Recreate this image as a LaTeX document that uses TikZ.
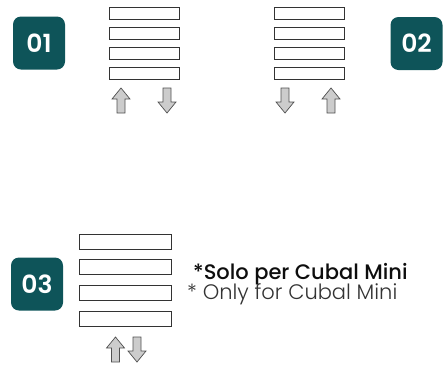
\documentclass[tikz,border=0pt]{standalone}
\usepackage{fontspec}
\setmainfont{Poppins}
\newfontfamily\semifont{Poppins SemiBold}
\newfontfamily\midfont{Poppins Medium}
\newfontfamily\lightfont{Poppins Light}
\usetikzlibrary{positioning}
\definecolor{badgeteal}{HTML}{0E5459}
\definecolor{arrowgray}{HTML}{CCCCCC}
\definecolor{edgegray}{HTML}{505050}
\tikzset{
  badge/.style={fill=badgeteal, rounded corners=8pt, minimum width=52pt, minimum height=53pt,
    text=white, font=\semifont\fontsize{25}{25}\selectfont, inner sep=0pt},
  slot/.style={draw=black!80, line width=0.9pt, minimum width=70pt, minimum height=12pt, inner sep=0pt},
  bigslot/.style={slot, minimum width=92pt, minimum height=15pt},
  uparr/.pic={\draw[fill=arrowgray, draw=edgegray, line width=0.7pt]
    (-4,12.5) -- (-4,-1.5) -- (-9,-1.5) -- (0,-12.5) -- (9,-1.5) -- (4,-1.5) -- (4,12.5) -- cycle;},
  note/.style={anchor=base west, inner sep=0pt, font=\fontsize{21}{21}\selectfont}
}
\begin{document}
\begin{tikzpicture}[x=1pt, y=-1pt]
    \useasboundingbox (0,0) rectangle (443,365);
    % badges
    \node[badge] (b1) at (39,43) {01};
    \node[badge] (b2) at (416.5,43.5) {02};
    \node[badge] (b3) at (37,284) {03};
    % stack 01
    \node[slot] (a1) at (144,13) {};
    \node[slot, below=7.3pt of a1] (a2) {};
    \node[slot, below=7.3pt of a2] (a3) {};
    \node[slot, below=7.3pt of a3] (a4) {};
    \pic at (121,100.5) {uparr};
    \pic[rotate=180] at (167,100.5) {uparr};
    % stack 02
    \node[slot] (c1) at (309,13) {};
    \node[slot, below=7.3pt of c1] (c2) {};
    \node[slot, below=7.3pt of c2] (c3) {};
    \node[slot, below=7.3pt of c3] (c4) {};
    \pic[rotate=180] at (285,100.5) {uparr};
    \pic at (331,100.5) {uparr};
    % stack 03
    \node[bigslot] (d1) at (125,241.5) {};
    \node[bigslot, below=10pt of d1] (d2) {};
    \node[bigslot, below=10pt of d2] (d3) {};
    \node[bigslot, below=10pt of d3] (d4) {};
    \pic at (115.5,349.5) {uparr};
    \pic[rotate=180] at (137,349.5) {uparr};
    % note
    \node[note, text=black!95] (it) at (193,279) {\midfont *Solo per Cubal Mini};
    \node[note, text=black!80] (en) at (187,299) {\lightfont * Only for Cubal Mini};
\end{tikzpicture}
\end{document}
